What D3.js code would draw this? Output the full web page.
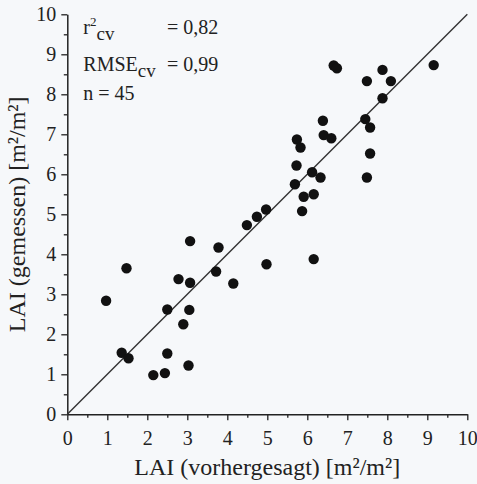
<!DOCTYPE html>
<html lang="de">
<head>
    <meta charset="UTF-8">
    <title>LAI Validierung</title>
    <script src="https://cdnjs.cloudflare.com/ajax/libs/d3/7.8.5/d3.min.js"></script>
    <style>
        html, body {
            margin: 0;
            padding: 0;
            background: #f6f8fa;
        }
        svg text {
            font-family: "Liberation Serif", "Times New Roman", serif;
            fill: #222;
        }
    </style>
</head>
<body>
<svg id="chart"></svg>
<script>

const predicted = [
    0.97, 1.48, 1.36, 1.53, 2.15, 2.44, 2.50, 2.50, 2.78, 2.90,
    3.07, 3.07, 3.05, 3.03, 3.78, 3.72, 4.15, 4.98, 6.16, 9.16,
    6.66, 6.74, 7.88, 7.49, 8.09, 7.88, 6.39, 7.45, 7.57, 6.41,
    6.60, 5.74, 5.83, 7.57, 5.73, 6.12, 6.33, 7.49, 5.69, 5.91,
    6.16, 5.87, 4.97, 4.74, 4.49
];
const measured = [
    2.84, 3.65, 1.54, 1.40, 0.98, 1.03, 1.52, 2.62, 3.38, 2.25,
    4.33, 3.29, 2.61, 1.22, 4.17, 3.57, 3.27, 3.75, 3.88, 8.73,
    8.72, 8.65, 8.61, 8.33, 8.33, 7.90, 7.34, 7.38, 7.17, 6.98,
    6.90, 6.87, 6.67, 6.52, 6.22, 6.05, 5.92, 5.92, 5.75, 5.44,
    5.50, 5.08, 5.12, 4.94, 4.73
];

const tickValues = [0, 1, 2, 3, 4, 5, 6, 7, 8, 9, 10];
const minorTicks = [0.5, 1.5, 2.5, 3.5, 4.5, 5.5, 6.5, 7.5, 8.5, 9.5];
const domain = [0, 10];

const xLabel = "LAI (vorhergesagt) [m²/m²]";
const yLabel = "LAI (gemessen) [m²/m²]";

const statLines = [
    {main: "r", sup: "2", sub: "cv", value: "= 0,82"},
    {main: "RMSE", sup: "", sub: "cv", value: "= 0,99"},
    {main: "n = 45", sup: "", sub: "", value: ""}
];

var margin = {left: 67.3, right: 9.7, top: 14.3, bottom: 69.7},
    width = 400,
    height = 400;

const root = d3.select("#chart")
    .attr("width", width + margin.left + margin.right)
    .attr("height", height + margin.top + margin.bottom);

const svg = root.append("g")
    .attr("transform", "translate(" + margin.left + "," + margin.top + ")");

const x = d3.scaleLinear().domain(domain).range([0, width]);
const y = d3.scaleLinear().domain(domain).range([height, 0]);

// minor ticks first so the major axis sits on top
svg.append("g")
    .attr("transform", "translate(0," + height + ")")
    .call(d3.axisBottom(x).tickValues(minorTicks).tickSize(3.5).tickFormat(""))
    .call(g => g.select(".domain").remove());
svg.append("g")
    .call(d3.axisLeft(y).tickValues(minorTicks).tickSize(3.5).tickFormat(""))
    .call(g => g.select(".domain").remove());

// x axis
svg.append("g")
    .attr("class", "axis")
    .attr("transform", "translate(0," + height + ")")
    .call(d3.axisBottom(x).tickValues(tickValues).tickSize(6).tickPadding(11).tickSizeOuter(0))
    .call(g => g.selectAll("text").style("font-size", "20px"));

// y axis
svg.append("g")
    .attr("class", "axis")
    .call(d3.axisLeft(y).tickValues(tickValues).tickSize(6).tickPadding(5).tickSizeOuter(0))
    .call(g => g.selectAll("text").style("font-size", "20px"));

svg.selectAll(".tick line").attr("stroke", "#222").attr("stroke-width", 1.3);
svg.selectAll(".domain").attr("stroke", "#222").attr("stroke-width", 1.5);
svg.selectAll(".tick text").attr("fill", "#222").style("font-family", "Liberation Serif");

// 1:1 line
svg.append("line")
    .attr("x1", x(domain[0])).attr("y1", y(domain[0]))
    .attr("x2", x(domain[1])).attr("y2", y(domain[1]))
    .attr("stroke", "#333")
    .attr("stroke-width", 1.4);

// points
svg.append("g")
    .selectAll("circle")
    .data(predicted.map((p, i) => ({x: p, y: measured[i]})))
    .enter()
    .append("circle")
    .attr("cx", d => x(d.x))
    .attr("cy", d => y(d.y))
    .attr("r", 5.2)
    .attr("fill", "#111");

// axis titles
svg.append("text")
    .attr("x", width / 2)
    .attr("y", height + 61)
    .attr("text-anchor", "middle")
    .style("font-size", "24px")
    .text(xLabel);

svg.append("text")
    .attr("transform", `translate(${-42}, ${height / 2}) rotate(-90)`)
    .attr("text-anchor", "middle")
    .style("font-size", "24px")
    .text(yLabel);

// statistics box
const lineY = [20, 57, 86];
const stats = svg.append("g").attr("transform", "translate(16, 0)");
statLines.forEach((s, i) => {
    const t = stats.append("text")
        .attr("x", 0)
        .attr("y", lineY[i])
        .style("font-size", "20px");
    t.append("tspan").text(s.main);
    let shift = 0;
    if (s.sup) {
        t.append("tspan").attr("dy", -8).style("font-size", "13px").text(s.sup);
        shift = -8;
    }
    if (s.sub) {
        t.append("tspan").attr("dy", 6 - shift).style("font-size", "19px").text(s.sub);
    }
    if (s.value) {
        stats.append("text")
            .attr("x", 135)
            .attr("y", lineY[i])
            .attr("text-anchor", "end")
            .style("font-size", "20px")
            .text(s.value);
    }
});
</script>
</body>
</html>
